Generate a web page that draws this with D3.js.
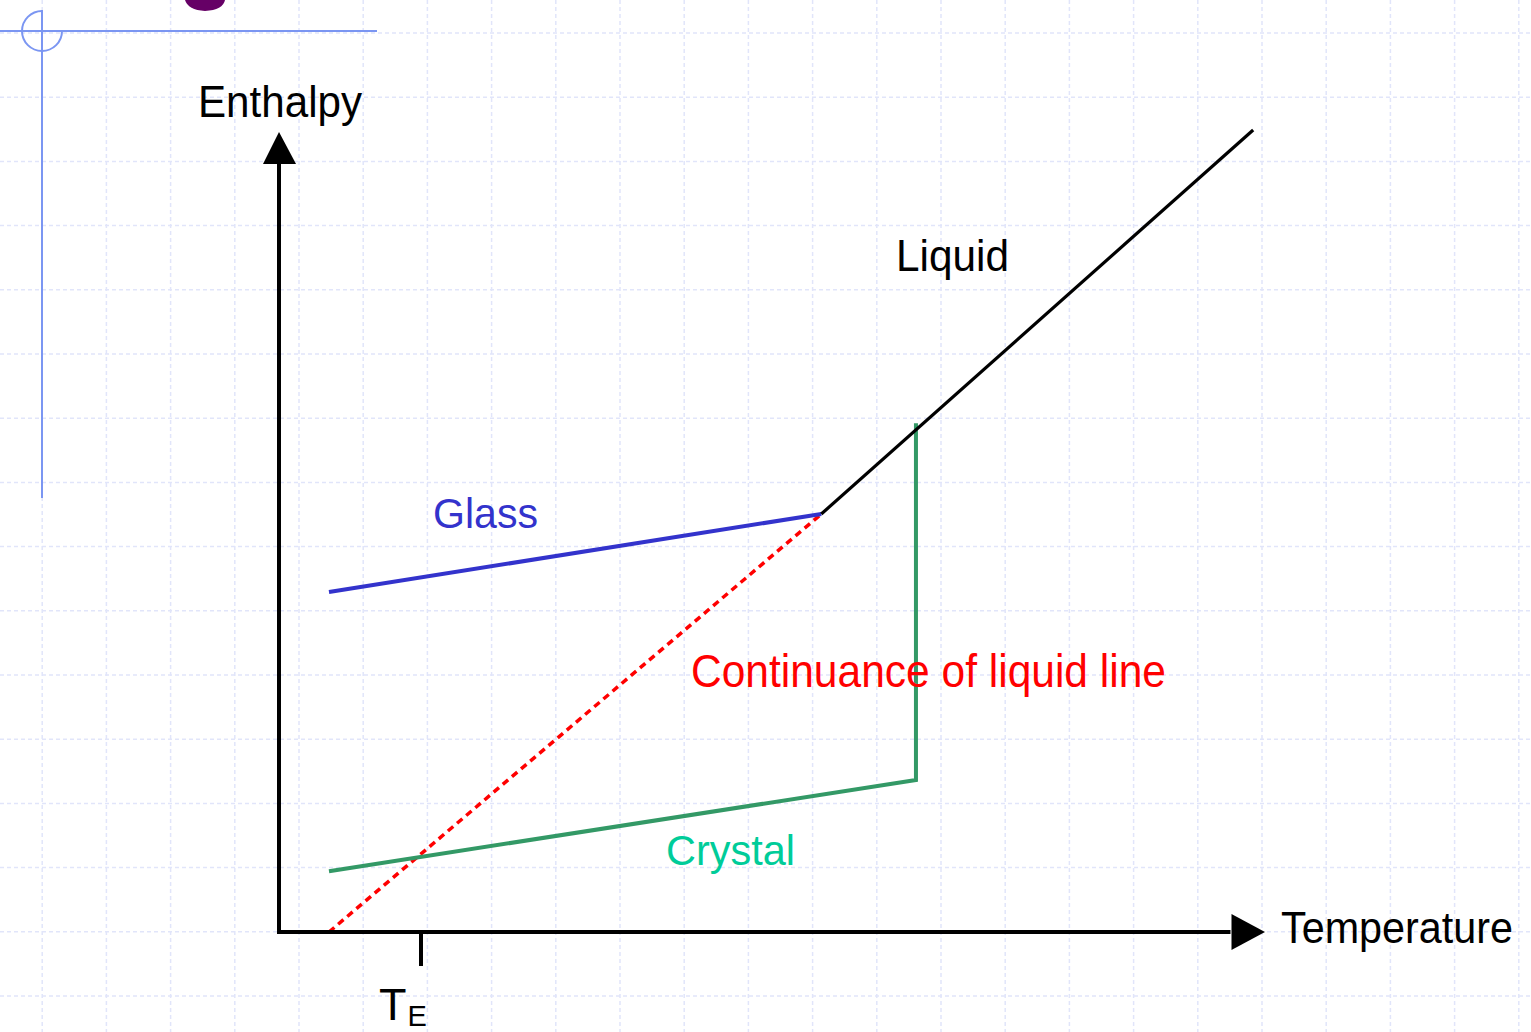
<!DOCTYPE html>
<html>
<head>
<meta charset="utf-8">
<script src="https://cdn.jsdelivr.net/npm/d3@7"></script>
<style>
  html, body { margin: 0; padding: 0; background: #ffffff; }
  svg { display: block; }
  text { font-family: "Liberation Sans", Arial, sans-serif; }
</style>
</head>
<body>
<svg id="chart" width="1531" height="1032"></svg>
<script>
// ---- Data (temperature 0-100, enthalpy 0-100, conceptual units) ----
const liquidT = [55, 98.8];
const liquidH = [52.25, 100.25];
const glassT = [5.07, 55];
const glassH = [42.5, 52.25];
const extT = [5.07, 55];
const extH = [0, 52.25];
const crystalT = [5.07, 64.6, 64.6];
const crystalH = [7.6, 19, 63.6];
const teT = 14.4;
const labels = ["Liquid", "Glass", "Continuance of liquid line", "Crystal"];

const svg = d3.select("#chart");
const W = 1531, H = 1032;

const x = d3.scaleLinear().domain([0, 100]).range([279, 1265]);
const y = d3.scaleLinear().domain([0, 100]).range([932, 132]);

// ---- background grid (slide template) ----
const gridStep = 64.2;
const gv = d3.range(42.2, W, gridStep);
const gh = d3.range(33, H, gridStep);
const grid = svg.append("g").attr("stroke", "#e1e5fa").attr("stroke-width", 1.5)
  .attr("stroke-dasharray", "4,3");
grid.selectAll("line.v").data(gv).join("line").attr("class", "v")
  .attr("x1", d => d).attr("x2", d => d).attr("y1", 0).attr("y2", H);
grid.selectAll("line.h").data(gh).join("line").attr("class", "h")
  .attr("x1", 0).attr("x2", W).attr("y1", d => d).attr("y2", d => d);

// ---- template decoration ----
const deco = svg.append("g").attr("stroke", "#7b96f2").attr("stroke-width", 2).attr("fill", "none");
deco.append("line").attr("x1", 0).attr("x2", 377).attr("y1", 31).attr("y2", 31);
deco.append("line").attr("x1", 42).attr("x2", 42).attr("y1", 10).attr("y2", 498);
deco.append("path").attr("d", "M 42 11 A 20 20 0 1 0 62 31");
svg.append("path").attr("fill", "#660066")
  .attr("d", "M 185 0 L 225 0 Q 223 10 205 11 Q 188 10 185 0 Z");

// ---- data lines ----
const line = d3.line().x(d => x(d[0])).y(d => y(d[1]));
const zip = (a, b) => a.map((v, i) => [v, b[i]]);

svg.append("path").datum(zip(extT, extH)).attr("d", line)
  .attr("fill", "none").attr("stroke", "#ff0000").attr("stroke-width", 3.5)
  .attr("stroke-dasharray", "7,5");
svg.append("path").datum(zip(glassT, glassH)).attr("d", line)
  .attr("fill", "none").attr("stroke", "#3333cc").attr("stroke-width", 4);
svg.append("path").datum(zip(crystalT, crystalH)).attr("d", line)
  .attr("fill", "none").attr("stroke", "#339966").attr("stroke-width", 4)
  .attr("stroke-linejoin", "miter");
svg.append("path").datum(zip(liquidT, liquidH)).attr("d", line)
  .attr("fill", "none").attr("stroke", "#000000").attr("stroke-width", 3.2);

// ---- axes ----
const ax = svg.append("g");
ax.append("line").attr("x1", x(0)).attr("x2", x(0)).attr("y1", y(0) + 2).attr("y2", y(96))
  .attr("stroke", "#000").attr("stroke-width", 4);
ax.append("path").attr("fill", "#000")
  .attr("d", `M ${x(0)} ${y(100)} L ${x(0) - 16} ${y(96)} L ${x(0) + 17} ${y(96)} Z`);
ax.append("line").attr("x1", x(0) - 2).attr("x2", x(96.5)).attr("y1", y(0)).attr("y2", y(0))
  .attr("stroke", "#000").attr("stroke-width", 4);
ax.append("path").attr("fill", "#000")
  .attr("d", `M ${x(100)} ${y(0)} L ${x(96.6)} ${y(0) - 18} L ${x(96.6)} ${y(0) + 18} Z`);
// T_E tick
ax.append("line").attr("x1", x(teT)).attr("x2", x(teT)).attr("y1", y(0)).attr("y2", y(0) + 34)
  .attr("stroke", "#000").attr("stroke-width", 4);

// ---- text ----
function txt(t, xx, yy, size, color, len) {
  const e = svg.append("text").attr("x", xx).attr("y", yy).attr("font-size", size)
    .attr("fill", color).text(t);
  if (len) e.attr("textLength", len).attr("lengthAdjust", "spacingAndGlyphs");
  return e;
}
txt("Enthalpy", 198, 117, 44, "#000", 164);
txt("Temperature", 1281, 943, 44, "#000", 232);
txt(labels[0], 896, 271, 45, "#000", 113);
txt(labels[1], 433, 528, 43, "#3333cc", 105);
txt(labels[2], 691, 687, 46, "#ff0000", 475);
txt(labels[3], 666, 865, 43, "#00cc99", 129);
const te = svg.append("text").attr("x", 379).attr("y", 1020).attr("font-size", 45).attr("fill", "#000");
te.append("tspan").text("T");
te.append("tspan").attr("font-size", 29).attr("dy", 6).attr("dx", 1).text("E");
</script>
</body>
</html>
